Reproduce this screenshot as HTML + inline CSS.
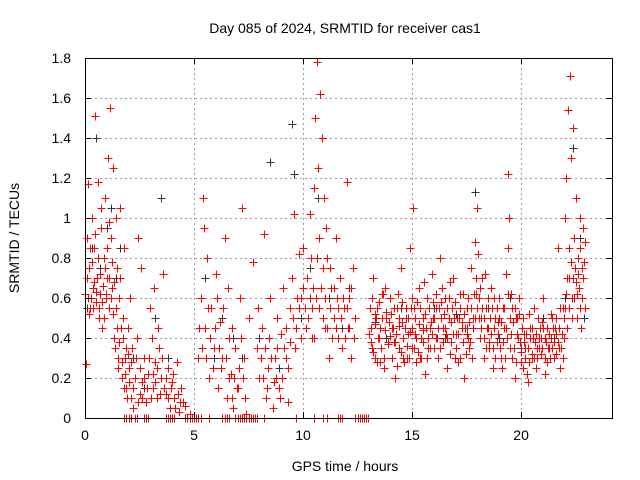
<!DOCTYPE html>
<html><head><meta charset="utf-8"><style>
html,body{margin:0;padding:0;background:#fff;}
svg{display:block;font-family:"Liberation Sans",sans-serif;}
</style></head><body>
<svg id="chart" width="640" height="480">
<g id="grid"></g>
<g id="marks"></g>
<rect x="85.5" y="58.5" width="527" height="360" fill="none" stroke="#000" stroke-width="1"/>
<g id="axes"></g>
<text x="345" y="33" text-anchor="middle" font-size="14">Day 085 of 2024, SRMTID for receiver cas1</text>
<text x="345" y="471" text-anchor="middle" font-size="14">GPS time / hours</text>
<text transform="translate(19,238) rotate(-90)" text-anchor="middle" font-size="14">SRMTID / TECUs</text>
</svg>
<script>
const xTicks=[0,5,10,15,20];
const yTicks=[0,0.2,0.4,0.6,0.8,1,1.2,1.4,1.6,1.8];
const yTickLabels=["0","0.2","0.4","0.6","0.8","1","1.2","1.4","1.6","1.8"];
const redPts=[[0.05,0.27],[0.1,0.9],[0.12,1.17],[0.15,0.6],[0.2,0.75],[0.25,0.55],[0.3,1.0],[0.35,0.65],[0.4,0.85],[0.45,1.51],[0.5,0.58],[0.55,0.7],[0.6,1.18],[0.65,0.5],[0.7,0.62],[0.75,0.95],[0.8,0.45],[0.85,0.8],[0.9,1.1],[0.95,0.6],[1.0,0.7],[1.05,1.3],[1.1,0.55],[1.15,1.55],[1.2,0.9],[1.25,0.65],[1.3,1.25],[1.35,0.4],[1.4,1.0],[1.45,0.75],[1.5,0.3],[1.55,0.6],[1.6,1.05],[1.65,0.45],[1.7,0.2],[1.75,0.5],[1.8,0.85],[1.85,0.3],[1.9,0.15],[1.95,0.45],
[2.0,0.25],[2.05,0.6],[2.1,0.1],[2.15,0.35],[2.2,0.05],[2.3,0.2],[2.4,0.4],[2.5,0.12],[2.6,0.18],[2.7,0.3],[2.8,0.08],[2.9,0.22],[3.0,0.55],[3.1,0.15],[3.2,0.28],[3.3,0.1],[3.4,0.35],[3.5,0.2],[3.6,0.72],[3.7,0.12],[3.8,0.25],[3.9,0.05],[4.0,0.18],[4.1,0.1],[4.2,0.28],[4.3,0.03],[4.4,0.15],[4.5,0.08],[4.6,0.06],[4.8,0.02],[3.15,0.65],[2.45,0.9],[2.55,0.75],[3.05,0.4],[3.35,0.45],
[5.2,0.3],[5.3,0.6],[5.4,1.1],[5.5,0.45],[5.6,0.8],[5.7,0.2],[5.8,0.55],[5.9,0.35],[6.0,0.72],[6.1,0.15],[6.2,0.48],[6.3,0.3],[6.4,0.9],[6.5,0.1],[6.6,0.4],[6.7,0.22],[6.8,0.05],[6.9,0.35],[7.0,0.15],[7.1,0.6],[7.2,1.05],[7.3,0.3],[7.4,0.02],[7.5,0.5],[5.45,0.95],[6.05,0.6],[6.55,0.65],[6.75,0.45],[7.05,0.25],[5.75,0.4],
[7.7,0.78],[7.9,0.35],[8.0,0.2],[8.1,0.45],[8.2,0.92],[8.3,0.1],[8.4,0.25],[8.5,0.6],[8.6,0.05],[8.7,0.3],[8.8,0.5],[8.9,0.15],[9.0,0.42],[9.1,0.65],[9.2,0.3],[9.3,0.08],[9.4,0.55],[9.5,0.7],[9.6,1.02],[9.7,0.45],[9.8,0.82],[9.9,0.6],[8.45,0.4],[8.75,0.2],[9.05,0.2],
[10.0,0.85],[10.1,0.55],[10.2,0.7],[10.3,1.02],[10.4,0.4],[10.5,1.15],[10.55,1.5],[10.6,0.6],[10.65,1.78],[10.7,1.25],[10.75,0.9],[10.8,1.62],[10.85,1.4],[10.9,0.75],[10.95,1.1],[11.0,0.45],[11.1,0.8],[11.2,0.3],[11.3,0.65],[11.4,0.5],[11.5,0.9],[11.6,0.4],[11.7,0.7],[11.8,0.35],[11.9,0.55],[12.0,1.18],[12.1,0.6],[12.2,0.3],[12.3,0.75],[12.4,0.5],[10.35,0.8],[10.45,0.65],[11.05,0.95],[11.55,0.6],[12.05,0.45],[11.25,0.75],
[13.1,0.45],[13.2,0.7],[13.3,0.3],[13.4,0.55],[13.5,0.4],[13.6,0.62],[13.7,0.25],[13.8,0.5],[13.9,0.38],[14.0,0.6],[14.1,0.45],[14.2,0.2],[14.3,0.55],[14.4,0.35],[14.5,0.75],[14.6,0.3],[14.7,0.5],[14.8,0.42],[14.9,0.85],[15.0,0.35],[15.05,1.05],[15.1,0.55],[15.2,0.28],[15.3,0.65],[15.4,0.4],[15.5,0.5],[15.6,0.22],[15.7,0.6],[15.8,0.45],[15.9,0.72],[16.0,0.35],[16.1,0.55],[16.2,0.3],[16.3,0.8],[16.4,0.45],[16.5,0.6],[16.6,0.25],[16.7,0.5],[16.8,0.38],[16.9,0.7],[17.0,0.42],[17.1,0.28],[17.2,0.62],[17.3,0.45],[17.4,0.2],[17.5,0.55],[17.6,0.35],[17.7,0.75],[17.8,0.5],[17.9,0.88],[18.0,1.05],[18.05,0.6],[18.1,0.4],[18.2,0.7],[18.3,0.3],[18.4,0.55],[18.5,0.45],[18.6,0.65],[18.7,0.25],[18.8,0.5],[18.9,0.38],[19.0,0.6],[19.1,0.3],[19.2,0.45],[19.3,0.72],[19.4,1.22],[19.45,1.0],[19.5,0.35],[19.6,0.55],[19.7,0.2],[19.8,0.42],[19.9,0.6],[20.0,0.28],[20.1,0.5],[20.2,0.35],[20.3,0.18],[20.4,0.45],[20.5,0.3],[20.6,0.55],[20.7,0.25],[20.8,0.4],[20.9,0.32],[21.0,0.6],[21.1,0.22],[21.2,0.45],[21.3,0.35],[21.4,0.5],[21.5,0.3],[21.6,0.42],[21.7,0.85],[21.8,0.25],[21.9,0.55],[22.0,1.0],[22.05,1.2],[22.1,0.7],[22.15,1.54],[22.2,0.85],[22.25,1.71],[22.3,1.3],[22.35,0.6],[22.4,1.45],[22.45,0.9],[22.5,1.1],[22.55,0.5],[22.6,0.8],[22.65,0.65],[22.7,1.0],[22.75,0.45],[22.8,0.75],[22.85,0.95],
[13.15,0.35],[13.35,0.5],[13.55,0.28],[13.75,0.65],[13.95,0.48],[14.15,0.38],[14.35,0.62],[14.55,0.48],[14.75,0.3],[14.95,0.55],[15.15,0.42],[15.35,0.3],[15.55,0.68],[15.75,0.35],[15.95,0.5],[16.15,0.4],[16.35,0.58],[16.55,0.42],[16.75,0.68],[16.95,0.3],[17.15,0.5],[17.35,0.62],[17.55,0.4],[17.75,0.3],[17.95,0.62],[18.15,0.5],[18.35,0.72],[18.55,0.35],[18.75,0.6],[18.95,0.48],[19.15,0.55],[19.35,0.4],[19.55,0.62],[19.75,0.5],[19.95,0.38],[20.15,0.42],[20.35,0.52],[20.55,0.4],[20.75,0.35],[20.95,0.48],[21.15,0.38],[21.35,0.52],[21.55,0.45],[21.75,0.35],[21.95,0.4]];
const redPtsDense=[[0.02,0.62],[0.08,0.7],[0.18,0.52],[0.22,0.85],[0.28,0.6],[0.33,0.78],[0.38,0.55],[0.42,0.68],[0.48,0.92],[0.52,0.63],[0.58,0.8],[0.62,0.55],[0.68,0.72],[0.72,1.05],[0.78,0.58],[0.82,0.66],[0.88,0.5],[0.92,0.75],[0.98,0.62],[1.02,0.85],[1.08,0.7],[1.12,0.98],[1.18,0.6],[1.22,0.78],[1.28,0.52],[1.32,0.68],[1.38,0.35],[1.42,0.55],[1.48,0.45],[1.52,0.25],[1.58,0.38],[1.62,0.7],[1.68,0.28],[1.72,0.4],[1.78,0.15],[1.82,0.22],[1.88,0.35],[1.92,0.1],[1.98,0.32],
[2.02,0.18],[2.12,0.28],[2.22,0.15],[2.35,0.3],[2.42,0.08],[2.52,0.25],[2.62,0.1],[2.72,0.2],[2.85,0.15],[2.95,0.3],[3.02,0.1],[3.12,0.22],[3.22,0.18],[3.32,0.25],[3.42,0.12],[3.52,0.3],[3.62,0.15],[3.72,0.2],[3.82,0.1],[3.95,0.15],[4.05,0.22],[4.15,0.05],[4.25,0.12],[4.35,0.08],
[5.25,0.45],[5.35,0.35],[5.55,0.3],[5.65,0.55],[5.85,0.25],[5.95,0.45],[6.15,0.35],[6.25,0.25],[6.35,0.55],[6.45,0.3],[6.62,0.2],[6.72,0.1],[6.85,0.2],[6.95,0.15],[7.15,0.4],[7.25,0.2],[7.35,0.1],
[7.95,0.55],[8.05,0.3],[8.15,0.2],[8.25,0.35],[8.35,0.15],[8.55,0.3],[8.65,0.18],[8.82,0.35],[8.95,0.1],[9.12,0.35],[9.22,0.45],[9.32,0.25],[9.42,0.38],[9.52,0.5],[9.62,0.35],[9.72,0.6],[9.82,0.55],[9.92,0.4],
[10.02,0.65],[10.12,0.45],[10.22,0.5],[10.32,0.6],[10.42,0.55],[10.52,0.4],[10.62,0.8],[10.72,0.55],[10.82,0.65],[10.92,0.5],[11.02,0.6],[11.12,0.45],[11.22,0.55],[11.32,0.4],[11.42,0.65],[11.52,0.45],[11.62,0.55],[11.72,0.5],[11.82,0.6],[11.92,0.4],[12.02,0.55],[12.12,0.45],[12.22,0.65],[12.32,0.4],
[13.02,0.42],[13.08,0.55],[13.12,0.38],[13.18,0.6],[13.22,0.33],[13.28,0.47],[13.32,0.52],[13.38,0.28],[13.42,0.4],[13.48,0.58],[13.52,0.45],[13.58,0.35],[13.62,0.5],[13.68,0.62],[13.72,0.3],[13.78,0.44],[13.82,0.53],[13.88,0.37],[13.92,0.48],[13.98,0.41],
[14.02,0.52],[14.08,0.3],[14.12,0.45],[14.18,0.55],[14.22,0.38],[14.28,0.42],[14.32,0.26],[14.38,0.5],[14.42,0.46],[14.48,0.33],[14.52,0.58],[14.58,0.4],[14.62,0.28],[14.68,0.45],[14.72,0.55],[14.78,0.36],[14.82,0.5],[14.88,0.3],[14.92,0.43],[14.98,0.6],
[15.02,0.45],[15.08,0.35],[15.12,0.5],[15.18,0.4],[15.22,0.58],[15.28,0.33],[15.32,0.47],[15.38,0.55],[15.42,0.3],[15.48,0.44],[15.52,0.38],[15.58,0.52],[15.62,0.45],[15.68,0.3],[15.72,0.4],[15.78,0.55],[15.82,0.35],[15.88,0.48],[15.92,0.42],[15.98,0.58],
[16.02,0.5],[16.08,0.4],[16.12,0.62],[16.18,0.45],[16.22,0.55],[16.28,0.35],[16.32,0.5],[16.38,0.65],[16.42,0.38],[16.48,0.52],[16.52,0.45],[16.58,0.55],[16.62,0.4],[16.68,0.6],[16.72,0.32],[16.78,0.48],[16.82,0.55],[16.88,0.42],[16.92,0.5],[16.98,0.58],
[17.02,0.35],[17.08,0.5],[17.12,0.42],[17.18,0.55],[17.22,0.3],[17.28,0.48],[17.32,0.38],[17.38,0.52],[17.42,0.45],[17.48,0.32],[17.52,0.42],[17.58,0.6],[17.62,0.48],[17.68,0.38],[17.72,0.55],[17.78,0.45],[17.82,0.62],[17.88,0.5],[17.92,0.7],[17.98,0.55],
[18.02,0.82],[18.08,0.5],[18.12,0.65],[18.18,0.45],[18.22,0.55],[18.28,0.4],[18.32,0.5],[18.38,0.35],[18.42,0.45],[18.48,0.6],[18.52,0.38],[18.58,0.5],[18.62,0.42],[18.68,0.55],[18.72,0.35],[18.78,0.45],[18.82,0.3],[18.88,0.55],[18.92,0.42],[18.98,0.5],
[19.02,0.35],[19.08,0.48],[19.12,0.25],[19.18,0.38],[19.22,0.55],[19.28,0.3],[19.32,0.45],[19.38,0.62],[19.42,0.85],[19.48,0.5],[19.52,0.42],[19.58,0.3],[19.62,0.48],[19.68,0.35],[19.72,0.55],[19.78,0.28],[19.82,0.5],[19.88,0.4],[19.92,0.52],[19.98,0.33],
[20.02,0.45],[20.08,0.25],[20.12,0.38],[20.18,0.3],[20.22,0.42],[20.28,0.22],[20.32,0.35],[20.38,0.28],[20.42,0.4],[20.48,0.32],[20.52,0.45],[20.58,0.3],[20.62,0.38],[20.68,0.42],[20.72,0.3],[20.78,0.5],[20.82,0.35],[20.88,0.45],[20.92,0.4],[20.98,0.35],
[21.02,0.45],[21.08,0.3],[21.12,0.4],[21.18,0.28],[21.22,0.35],[21.28,0.42],[21.32,0.3],[21.38,0.4],[21.42,0.35],[21.48,0.45],[21.52,0.38],[21.58,0.32],[21.62,0.5],[21.68,0.38],[21.72,0.45],[21.78,0.55],[21.82,0.35],[21.88,0.42],[21.92,0.3],[21.98,0.5],
[22.02,0.55],[22.08,0.62],[22.12,0.45],[22.18,0.7],[22.22,0.55],[22.28,0.78],[22.32,0.5],[22.38,0.7],[22.42,0.6],[22.48,0.75],[22.52,0.68],[22.58,0.62],[22.62,0.72],[22.68,0.55],[22.72,0.85],[22.78,0.6],[22.82,0.7],[22.88,0.78],[22.92,0.55],[22.95,0.88]];
const blackPts=[[0.1,0.55],[0.3,0.85],[0.5,1.4],[0.7,0.75],[1.0,0.95],[1.2,1.05],[1.4,0.7],[1.6,0.85],[2.2,0.3],[2.7,0.15],[3.2,0.5],[3.5,1.1],[3.8,0.3],[5.5,0.7],[5.9,0.3],[6.3,0.5],[6.8,0.4],[7.2,0.3],[8.0,0.4],[8.5,1.28],[8.9,0.25],[9.5,1.47],[9.6,1.22],[9.9,0.5],[10.3,0.75],[10.7,1.1],[11.2,0.6],[11.8,0.45],[12.1,0.65],[13.3,0.48],[13.8,0.4],[14.5,0.55],[15.0,0.6],[15.5,0.45],[16.0,0.55],[16.5,0.4],[17.0,0.52],[17.5,0.45],[17.9,1.13],[18.5,0.55],[19.0,0.4],[19.5,0.6],[20.0,0.35],[20.5,0.45],[21.0,0.5],[21.5,0.4],[22.0,0.6],[22.4,1.35],[22.7,0.9],[22.9,0.5]];
const zeroTimes=[1.8,1.9,2.0,2.1,2.3,2.4,2.7,2.8,2.9,3.7,3.8,3.9,4.0,4.1,4.6,4.7,4.8,4.9,5.0,5.1,5.2,5.3,5.7,6.3,6.4,6.5,6.6,6.9,7.0,7.1,7.2,7.3,7.4,7.5,7.6,7.7,7.8,7.9,8.2,9.7,10.5,10.9,11.1,11.6,11.7,11.8,12.4,12.5,12.6,12.7,12.8,12.9,13.0];
const X0=85,X1=612,Y0=418,Y1=58,XMAX=24.17,YMAX=1.8;
function sx(t){return X0+t/XMAX*(X1-X0);}
function sy(v){return Y0-v/YMAX*(Y0-Y1);}
const NS="http://www.w3.org/2000/svg";
const grid=document.getElementById('grid'),axes=document.getElementById('axes'),marks=document.getElementById('marks');
function mk(tag,attrs,parent){const e=document.createElementNS(NS,tag);for(const k in attrs)e.setAttribute(k,attrs[k]);parent.appendChild(e);return e;}
function px(v){return Math.round(v)+0.5;}
xTicks.forEach(t=>{const x=px(sx(t));
 if(t>0){const g=mk('line',{x1:x,x2:x,y1:Y1,y2:Y0,stroke:'#a0a0a0','stroke-dasharray':'2,3'},grid);
 
 }
 mk('line',{x1:x,x2:x,y1:Y0,y2:Y0-6,stroke:'#000'},axes);
 mk('line',{x1:x,x2:x,y1:Y1,y2:Y1+6,stroke:'#000'},axes);
 const tx=mk('text',{x:sx(t),y:Y0+22,'text-anchor':'middle','font-size':'14'},axes);tx.textContent=t;
 
 });
yTicks.forEach((v,i)=>{const y=px(sy(v));
 if(v>0&&v<YMAX){const g=mk('line',{x1:X0,x2:X1,y1:y,y2:y,stroke:'#a0a0a0','stroke-dasharray':'2,3'},grid);
 
 }
 mk('line',{x1:X0,x2:X0+6,y1:y,y2:y,stroke:'#000'},axes);
 mk('line',{x1:X1,x2:X1-6,y1:y,y2:y,stroke:'#000'},axes);
 const tx=mk('text',{x:X0-14,y:sy(v)+5,'text-anchor':'end','font-size':'14'},axes);tx.textContent=yTickLabels[i];
 
 });
function plus(t,v,col,name){const x=px(sx(t)),y=px(sy(v));
 const p=mk('path',{d:`M${x-4} ${y}H${x+4}M${x} ${y-4}V${y+4}`,stroke:col,'stroke-width':'1',fill:'none','shape-rendering':'crispEdges'},marks);
 
 }
blackPts.forEach(p=>plus(p[0],p[1],'#333','black-point'));
redPts.forEach(p=>plus(p[0],p[1],'#ff0000','red-point'));
redPtsDense.forEach(p=>plus(p[0],p[1],'#ff0000','red-point'));
zeroTimes.forEach(t=>plus(t,0,'#ff0000','zero-point'));
</script>
</body></html>
